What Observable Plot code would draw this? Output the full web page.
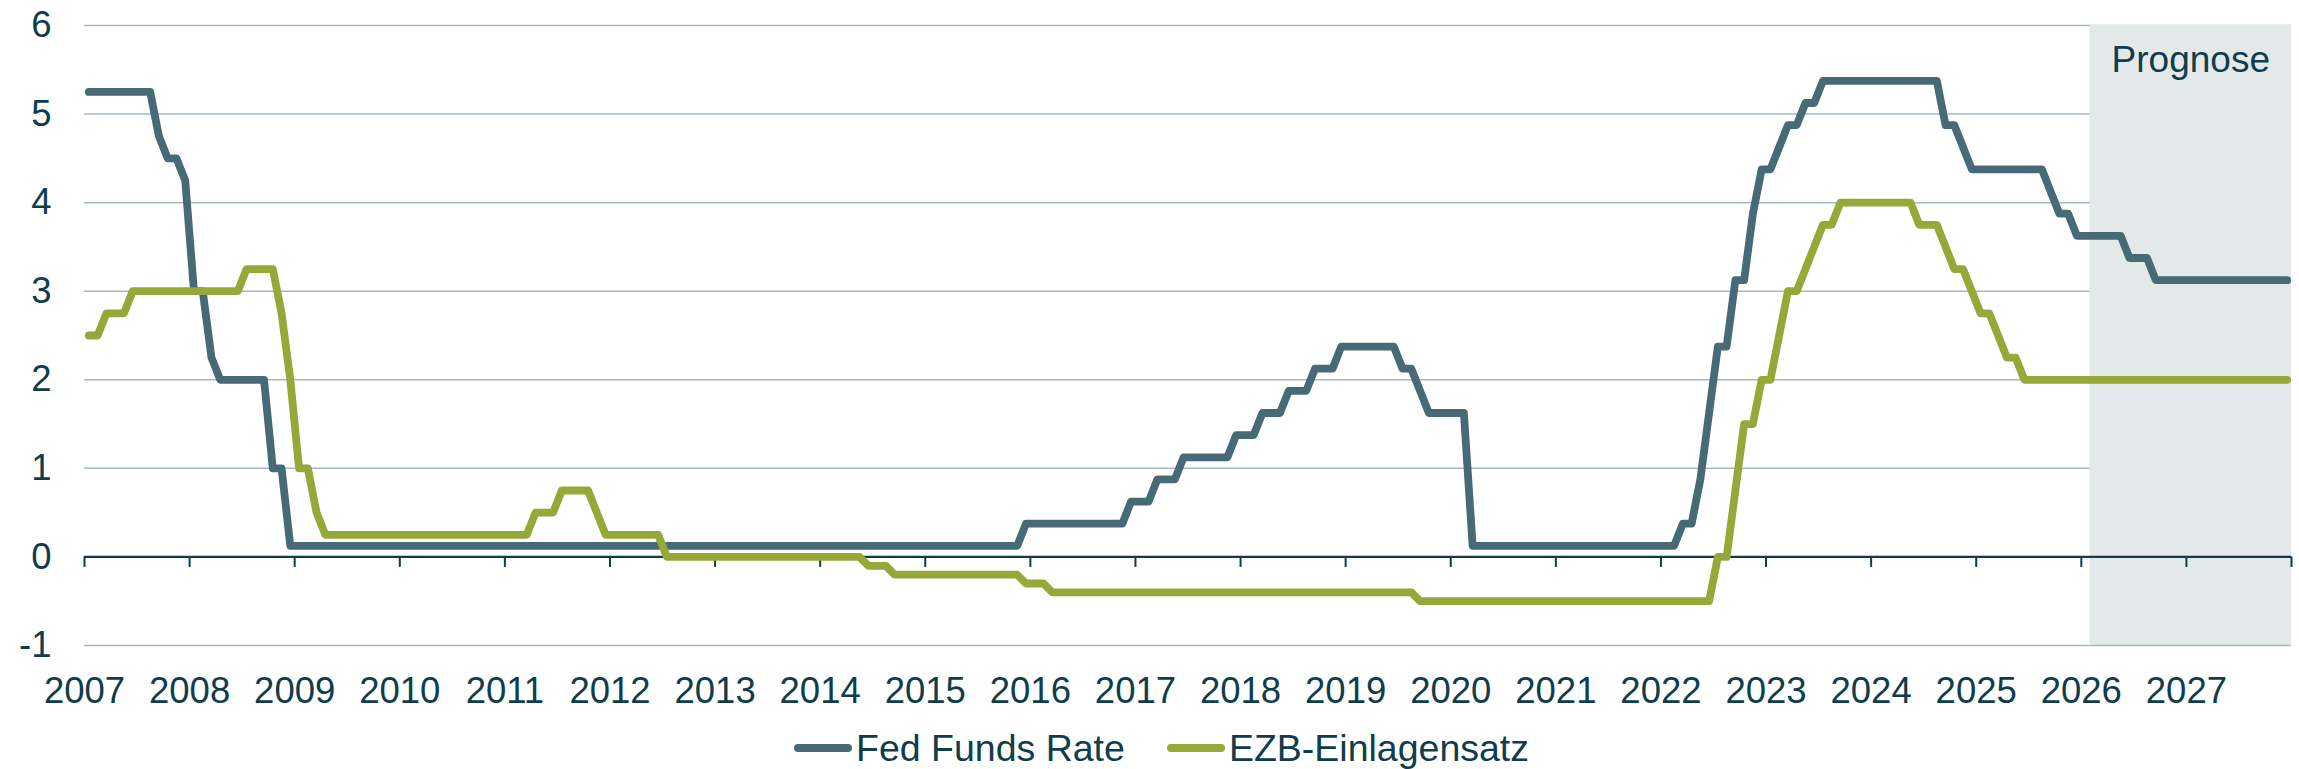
<!DOCTYPE html>
<html>
<head>
<meta charset="utf-8">
<script src="https://cdn.jsdelivr.net/npm/d3@7"></script>
<script src="https://cdn.jsdelivr.net/npm/@observablehq/plot@0.6"></script>
<style>
  html, body { margin: 0; padding: 0; background: #ffffff; }
  #wrap { position: relative; width: 2299px; height: 769px; overflow: hidden;
          font-family: "Liberation Sans", Arial, sans-serif; color: #0f3d4c; }
  #chart svg { display: block; }
  #legend { position: absolute; left: 794px; top: 726px; height: 44px;
            display: flex; align-items: center; font-size: 37.5px; line-height: 44px; white-space: nowrap; }
  .sw { display: inline-block; width: 58px; height: 8px; border-radius: 4px; margin-right: 4px; }
  .item { display: flex; align-items: center; }
  .item + .item { margin-left: 42px; }
</style>
</head>
<body>
<div id="wrap">
  <div id="chart"></div>
  <div id="legend"></div>
</div>
<script>
// ---- data (monthly, end-of-month policy rates, Jan 2007 – Dec 2027) ----
const startYear = 2007;
const endYear = 2028;
const seriesNames = ["Fed Funds Rate", "EZB-Einlagensatz"];
const yearLabels = [2007, 2008, 2009, 2010, 2011, 2012, 2013, 2014, 2015, 2016, 2017,
                    2018, 2019, 2020, 2021, 2022, 2023, 2024, 2025, 2026, 2027];
const yTicks = [-1, 0, 1, 2, 3, 4, 5, 6];
const forecastLabel = "Prognose";
const forecastStartMonth = 13; // Feb 2026 = start of the forecast shading (2026 + 1/12)

const fedFundsRate = [
  5.25, 5.25, 5.25, 5.25, 5.25, 5.25, 5.25, 5.25, 4.75, 4.5, 4.5, 4.25,        // 2007
  3, 3, 2.25, 2, 2, 2, 2, 2, 2, 1, 1, 0.125,                                   // 2008
  0.125, 0.125, 0.125, 0.125, 0.125, 0.125, 0.125, 0.125, 0.125, 0.125, 0.125, 0.125, // 2009
  0.125, 0.125, 0.125, 0.125, 0.125, 0.125, 0.125, 0.125, 0.125, 0.125, 0.125, 0.125, // 2010
  0.125, 0.125, 0.125, 0.125, 0.125, 0.125, 0.125, 0.125, 0.125, 0.125, 0.125, 0.125, // 2011
  0.125, 0.125, 0.125, 0.125, 0.125, 0.125, 0.125, 0.125, 0.125, 0.125, 0.125, 0.125, // 2012
  0.125, 0.125, 0.125, 0.125, 0.125, 0.125, 0.125, 0.125, 0.125, 0.125, 0.125, 0.125, // 2013
  0.125, 0.125, 0.125, 0.125, 0.125, 0.125, 0.125, 0.125, 0.125, 0.125, 0.125, 0.125, // 2014
  0.125, 0.125, 0.125, 0.125, 0.125, 0.125, 0.125, 0.125, 0.125, 0.125, 0.125, 0.375, // 2015
  0.375, 0.375, 0.375, 0.375, 0.375, 0.375, 0.375, 0.375, 0.375, 0.375, 0.375, 0.625, // 2016
  0.625, 0.625, 0.875, 0.875, 0.875, 1.125, 1.125, 1.125, 1.125, 1.125, 1.125, 1.375, // 2017
  1.375, 1.375, 1.625, 1.625, 1.625, 1.875, 1.875, 1.875, 2.125, 2.125, 2.125, 2.375, // 2018
  2.375, 2.375, 2.375, 2.375, 2.375, 2.375, 2.125, 2.125, 1.875, 1.625, 1.625, 1.625, // 2019
  1.625, 1.625, 0.125, 0.125, 0.125, 0.125, 0.125, 0.125, 0.125, 0.125, 0.125, 0.125, // 2020
  0.125, 0.125, 0.125, 0.125, 0.125, 0.125, 0.125, 0.125, 0.125, 0.125, 0.125, 0.125, // 2021
  0.125, 0.125, 0.375, 0.375, 0.875, 1.625, 2.375, 2.375, 3.125, 3.125, 3.875, 4.375, // 2022
  4.375, 4.625, 4.875, 4.875, 5.125, 5.125, 5.375, 5.375, 5.375, 5.375, 5.375, 5.375, // 2023
  5.375, 5.375, 5.375, 5.375, 5.375, 5.375, 5.375, 5.375, 4.875, 4.875, 4.625, 4.375, // 2024
  4.375, 4.375, 4.375, 4.375, 4.375, 4.375, 4.375, 4.375, 4.125, 3.875, 3.875, 3.625, // 2025
  3.625, 3.625, 3.625, 3.625, 3.625, 3.375, 3.375, 3.375, 3.125, 3.125, 3.125, 3.125, // 2026
  3.125, 3.125, 3.125, 3.125, 3.125, 3.125, 3.125, 3.125, 3.125, 3.125, 3.125, 3.125  // 2027
];

const ezbDepositRate = [
  2.5, 2.5, 2.75, 2.75, 2.75, 3, 3, 3, 3, 3, 3, 3,                             // 2007
  3, 3, 3, 3, 3, 3, 3.25, 3.25, 3.25, 3.25, 2.75, 2,                           // 2008
  1, 1, 0.5, 0.25, 0.25, 0.25, 0.25, 0.25, 0.25, 0.25, 0.25, 0.25,             // 2009
  0.25, 0.25, 0.25, 0.25, 0.25, 0.25, 0.25, 0.25, 0.25, 0.25, 0.25, 0.25,      // 2010
  0.25, 0.25, 0.25, 0.5, 0.5, 0.5, 0.75, 0.75, 0.75, 0.75, 0.5, 0.25,          // 2011
  0.25, 0.25, 0.25, 0.25, 0.25, 0.25, 0, 0, 0, 0, 0, 0,                        // 2012
  0, 0, 0, 0, 0, 0, 0, 0, 0, 0, 0, 0,                                          // 2013
  0, 0, 0, 0, 0, -0.1, -0.1, -0.1, -0.2, -0.2, -0.2, -0.2,                     // 2014
  -0.2, -0.2, -0.2, -0.2, -0.2, -0.2, -0.2, -0.2, -0.2, -0.2, -0.2, -0.3,      // 2015
  -0.3, -0.3, -0.4, -0.4, -0.4, -0.4, -0.4, -0.4, -0.4, -0.4, -0.4, -0.4,      // 2016
  -0.4, -0.4, -0.4, -0.4, -0.4, -0.4, -0.4, -0.4, -0.4, -0.4, -0.4, -0.4,      // 2017
  -0.4, -0.4, -0.4, -0.4, -0.4, -0.4, -0.4, -0.4, -0.4, -0.4, -0.4, -0.4,      // 2018
  -0.4, -0.4, -0.4, -0.4, -0.4, -0.4, -0.4, -0.4, -0.5, -0.5, -0.5, -0.5,      // 2019
  -0.5, -0.5, -0.5, -0.5, -0.5, -0.5, -0.5, -0.5, -0.5, -0.5, -0.5, -0.5,      // 2020
  -0.5, -0.5, -0.5, -0.5, -0.5, -0.5, -0.5, -0.5, -0.5, -0.5, -0.5, -0.5,      // 2021
  -0.5, -0.5, -0.5, -0.5, -0.5, -0.5, 0, 0, 0.75, 1.5, 1.5, 2,                 // 2022
  2, 2.5, 3, 3, 3.25, 3.5, 3.75, 3.75, 4, 4, 4, 4,                             // 2023
  4, 4, 4, 4, 4, 3.75, 3.75, 3.75, 3.5, 3.25, 3.25, 3,                         // 2024
  2.75, 2.75, 2.5, 2.25, 2.25, 2, 2, 2, 2, 2, 2, 2,                            // 2025
  2, 2, 2, 2, 2, 2, 2, 2, 2, 2, 2, 2,                                          // 2026
  2, 2, 2, 2, 2, 2, 2, 2, 2, 2, 2, 2                                           // 2027
];

// ---- styling ----
const colors = { fed: "#466a76", ezb: "#95a838", text: "#0f3d4c", grid: "#a5b9c3", shade: "#e3e9e9" };

// monthly categories, plotted at the middle of each month
const rows = fedFundsRate.map((v, i) => ({
  x: startYear + (i + 0.5) / 12,
  fed: v,
  ezb: ezbDepositRate[i]
}));
const tickYears = yearLabels.concat([endYear]);
const forecastStart = 2026 + (forecastStartMonth - 12) / 12;
const gridValues = yTicks.filter(d => d > 0);

const chart = Plot.plot({
  width: 2299,
  height: 715,
  marginLeft: 84,
  marginRight: 8,
  marginTop: 25,
  marginBottom: 70,
  style: { fontFamily: '"Liberation Sans", Arial, sans-serif', fontSize: "36.5px", color: colors.text, background: "#ffffff", overflow: "visible" },
  x: { type: "linear", domain: [startYear, endYear], ticks: yearLabels, tickFormat: d => String(d), tickSize: 0, tickPadding: 32, label: null },
  y: { domain: [-1, 6], ticks: yTicks, tickFormat: d => String(d), tickSize: 0, tickPadding: 33, label: null },
  marks: [
    Plot.ruleY(gridValues, { stroke: colors.grid, strokeWidth: 1.5 }),
    Plot.rect([forecastLabel], { x1: () => forecastStart, x2: () => endYear, fill: colors.shade }),
    Plot.ruleY([-1], { stroke: colors.grid, strokeWidth: 1.5 }),
    Plot.ruleY([0], { stroke: colors.text, strokeWidth: 2.2 }),
    Plot.ruleX(tickYears, { x: d => d, y1: 0, y2: 0, insetBottom: -10.5, stroke: colors.text, strokeWidth: 2 }),
    Plot.text([forecastLabel], { x: () => (forecastStart + endYear) / 2, frameAnchor: "top", lineAnchor: "top", dy: 20, text: d => d, fill: colors.text, fontSize: 37 }),
    Plot.line(rows, { x: "x", y: "fed", stroke: colors.fed, strokeWidth: 7.8, strokeLinecap: "round", strokeLinejoin: "round" }),
    Plot.line(rows, { x: "x", y: "ezb", stroke: colors.ezb, strokeWidth: 7.8, strokeLinecap: "round", strokeLinejoin: "round" })
  ]
});
document.getElementById("chart").appendChild(chart);

// ---- legend below the chart ----
const legend = document.getElementById("legend");
[[seriesNames[0], colors.fed], [seriesNames[1], colors.ezb]].forEach(([name, c]) => {
  const item = document.createElement("div");
  item.className = "item";
  const sw = document.createElement("span");
  sw.className = "sw";
  sw.style.background = c;
  const t = document.createElement("span");
  t.textContent = name;
  item.appendChild(sw);
  item.appendChild(t);
  legend.appendChild(item);
});
</script>
</body>
</html>
